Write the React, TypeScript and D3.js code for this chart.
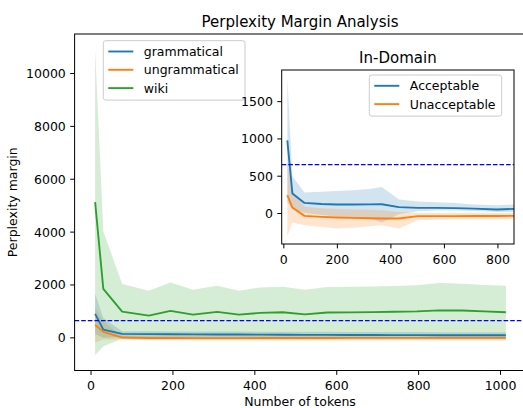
import React from 'react';
import * as d3 from 'd3';

const W = 523;
const H = 408;
const FONT = 'DejaVu Sans, Liberation Sans, sans-serif';

// Main panel: perplexity margin vs. sentence length (token bins)
const tokenBins = [10, 30, 76, 141, 194, 249, 308, 361, 413, 468, 522, 577, 632, 687, 741, 796, 851, 906, 960, 1013];

const grammaticalMean = [906, 313, 151, 140, 135, 130, 128, 125, 120, 115, 112, 110, 108, 106, 104, 102, 100, 100, 98, 98];
const grammaticalHigh = [1672, 755, 249, 245, 242, 240, 238, 236, 233, 230, 228, 226, 224, 222, 220, 218, 215, 213, 212, 211];
const grammaticalLow = [150, 0, 30, 25, 22, 20, 20, 18, 15, 12, 10, 10, 10, 8, 8, 6, 5, 5, 4, 4];

const ungrammaticalMean = [490, 226, 11, -5, -8, -10, -10, -10, -8, -6, -5, -4, -3, -2, -2, -1, 0, 0, 0, 0];
const ungrammaticalHigh = [1155, 626, 60, 50, 48, 46, 45, 44, 42, 40, 40, 40, 38, 38, 36, 36, 35, 35, 34, 34];
const ungrammaticalLow = [-189, -64, -64, -90, -95, -100, -100, -102, -100, -100, -100, -100, -100, -100, -100, -100, -102, -102, -102, -102];

const wikiMean = [5132, 1849, 992, 841, 1019, 879, 981, 879, 943, 966, 890, 960, 965, 975, 985, 1000, 1040, 1035, 1000, 970];
const wikiHigh = [10917, 4023, 2038, 1785, 2098, 1823, 1974, 1785, 1909, 1930, 1823, 1925, 1935, 1945, 1960, 1990, 2075, 2050, 2000, 1974];
const wikiLow = [-657, -317, -38, -60, -60, -60, -60, -60, -60, -60, -60, -60, -60, -60, -60, -60, -60, -60, -60, -60];

// Inset panel: in-domain acceptability
const inDomainBins = [13, 32, 77, 140, 198, 260, 320, 366, 430, 500, 570, 640, 710, 796, 860];

const acceptableMean = [980, 267, 142, 128, 120, 120, 122, 124, 85, 75, 75, 72, 65, 53, 62];
const acceptableHigh = [1818, 499, 280, 290, 302, 310, 330, 356, 187, 160, 150, 142, 120, 111, 120];
const acceptableLow = [150, 60, 10, -20, -40, -50, -70, -120, -10, 30, 40, 40, 35, 20, 20];

const unacceptableMean = [245, 80, -32, -45, -53, -58, -63, -67, -67, -36, -36, -35, -34, -33, -32];
const unacceptableHigh = [700, 300, 90, 70, 60, 55, 50, 45, 20, 10, 10, 10, 10, 10, 10];
const unacceptableLow = [-303, -120, -156, -180, -200, -190, -170, -156, -200, -90, -85, -80, -80, -80, -75];

const threshold = 670;

const mainXTicks = [0, 200, 400, 600, 800, 1000];
const mainYTicks = [0, 2000, 4000, 6000, 8000, 10000];
const insetXTicks = [0, 200, 400, 600, 800];
const insetYTicks = [0, 500, 1000, 1500];

const mainLegend = ['grammatical', 'ungrammatical', 'wiki'];
const insetLegend = ['Acceptable', 'Unacceptable'];

const BLUE = '#1f77b4';
const ORANGE = '#ff7f0e';
const GREEN = '#2ca02c';

const LW = 1.875;
const TICK = 4.4;
const FS = 12.5;

type Series = { mean: number[]; high: number[]; low: number[]; color: string };

function padded(lo: number, hi: number): [number, number] {
  const m = (hi - lo) * 0.05;
  return [lo - m, hi + m];
}

function Panel(props: {
  xs: number[];
  series: Series[];
  x: d3.ScaleLinear<number, number>;
  y: d3.ScaleLinear<number, number>;
  id: string;
}) {
  const { xs, series, x, y, id } = props;
  const [x0, x1] = x.range();
  const [y0, y1] = y.range();
  const line = (vals: number[]) =>
    d3.line<number>().x((_, i) => x(xs[i])).y((v) => y(v))(vals) || '';
  const area = (hi: number[], lo: number[]) =>
    d3
      .area<number>()
      .x((_, i) => x(xs[i]))
      .y0((_, i) => y(lo[i]))
      .y1((_, i) => y(hi[i]))(xs) || '';
  // keep the dashed reference line on a pixel centre so it stays crisp
  const ty = Math.round(y(threshold)) + 0.5;
  return (
    <g clipPath={`url(#${id})`}>
      <defs>
        <clipPath id={id}>
          <rect x={x0} y={y1} width={x1 - x0} height={y0 - y1} />
        </clipPath>
      </defs>
      {series.map((s, i) => (
        <path key={'a' + i} d={area(s.high, s.low)} fill={s.color} fillOpacity={0.2} stroke="none" />
      ))}
      {series.map((s, i) => (
        <path key={'l' + i} d={line(s.mean)} fill="none" stroke={s.color} strokeWidth={LW} strokeLinejoin="round" />
      ))}
      <line x1={x0} x2={x1} y1={ty} y2={ty} stroke="#0000ff" strokeWidth={1.25} strokeDasharray="4.6,2" />
    </g>
  );
}

function Axes(props: {
  x: d3.ScaleLinear<number, number>;
  y: d3.ScaleLinear<number, number>;
  xTicks: number[];
  yTicks: number[];
}) {
  const { x, y, xTicks, yTicks } = props;
  const [x0, x1] = x.range();
  const [y0, y1] = y.range();
  return (
    <g fontFamily={FONT} fontSize={FS} fill="#000">
      <rect x={x0} y={y1} width={x1 - x0} height={y0 - y1} fill="none" stroke="#000" strokeWidth={1} />
      {xTicks.map((t) => (
        <g key={'x' + t}>
          <line x1={x(t)} x2={x(t)} y1={y0} y2={y0 + TICK} stroke="#000" strokeWidth={1} />
          <text x={x(t)} y={y0 + 19.5} textAnchor="middle">
            {t}
          </text>
        </g>
      ))}
      {yTicks.map((t) => (
        <g key={'y' + t}>
          <line x1={x0 - TICK} x2={x0} y1={y(t)} y2={y(t)} stroke="#000" strokeWidth={1} />
          <text x={x0 - TICK - 4.4} y={y(t)} dy="0.36em" textAnchor="end">
            {t}
          </text>
        </g>
      ))}
    </g>
  );
}

function Legend(props: { x: number; y: number; w: number; labels: string[]; colors: string[] }) {
  const { x, y, w, labels, colors } = props;
  const rowH = 18.3;
  const h = labels.length * rowH + 4.5;
  return (
    <g fontFamily={FONT} fontSize={FS}>
      <rect x={x} y={y} width={w} height={h} rx={2.5} ry={2.5} fill="#fff" fillOpacity={0.8} stroke="#cccccc" strokeWidth={1} />
      {labels.map((lab, i) => {
        const cy = y + 10.8 + i * rowH;
        return (
          <g key={lab}>
            <line x1={x + 5} x2={x + 30} y1={cy} y2={cy} stroke={colors[i]} strokeWidth={LW} />
            <text x={x + 40.5} y={cy} dy="0.36em" fill="#000">
              {lab}
            </text>
          </g>
        );
      })}
    </g>
  );
}

export default function App() {
  const mainX = d3
    .scaleLinear()
    .domain(padded(d3.min(tokenBins)!, d3.max(tokenBins)!))
    .range([74.6, 526.4]);
  const allMain = [...wikiHigh, ...wikiLow, ...grammaticalHigh, ...grammaticalLow, ...ungrammaticalHigh, ...ungrammaticalLow];
  const mainY = d3
    .scaleLinear()
    .domain(padded(d3.min(allMain)!, d3.max(allMain)!))
    .range([370.5, 34]);

  const insetX = d3.scaleLinear().domain([-8, 860]).range([281.7, 514]);
  const allInset = [...acceptableHigh, ...acceptableLow, ...unacceptableHigh, ...unacceptableLow];
  const insetY = d3
    .scaleLinear()
    .domain(padded(d3.min(allInset)!, d3.max(allInset)!))
    .range([244, 70]);

  const mainSeries: Series[] = [
    { mean: grammaticalMean, high: grammaticalHigh, low: grammaticalLow, color: BLUE },
    { mean: ungrammaticalMean, high: ungrammaticalHigh, low: ungrammaticalLow, color: ORANGE },
    { mean: wikiMean, high: wikiHigh, low: wikiLow, color: GREEN },
  ];
  const insetSeries: Series[] = [
    { mean: acceptableMean, high: acceptableHigh, low: acceptableLow, color: BLUE },
    { mean: unacceptableMean, high: unacceptableHigh, low: unacceptableLow, color: ORANGE },
  ];

  return (
    <svg width={W} height={H} style={{ position: 'absolute', left: 0, top: 0, background: '#fff' }}>
      <rect width={W} height={H} fill="#fff" />
      <text x={300} y={26.5} textAnchor="middle" fontFamily={FONT} fontSize={15}>
        Perplexity Margin Analysis
      </text>
      <Panel xs={tokenBins} series={mainSeries} x={mainX} y={mainY} id="clip-main" />
      <Axes x={mainX} y={mainY} xTicks={mainXTicks} yTicks={mainYTicks} />
      <text x={300} y={406} textAnchor="middle" fontFamily={FONT} fontSize={FS}>
        Number of tokens
      </text>
      <text
        transform={`translate(17,${(34 + 370.5) / 2}) rotate(-90)`}
        textAnchor="middle"
        fontFamily={FONT}
        fontSize={FS}
      >
        Perplexity margin
      </text>
      <Legend x={103.3} y={40.7} w={141.7} labels={mainLegend} colors={[BLUE, ORANGE, GREEN]} />

      {/* inset */}
      <rect x={281.7} y={70} width={514 - 281.7} height={174} fill="#fff" />
      <Panel xs={inDomainBins} series={insetSeries} x={insetX} y={insetY} id="clip-inset" />
      <Axes x={insetX} y={insetY} xTicks={insetXTicks} yTicks={insetYTicks} />
      <text x={397.9} y={62.5} textAnchor="middle" fontFamily={FONT} fontSize={15}>
        In-Domain
      </text>
      <Legend x={369.3} y={75} w={132.4} labels={insetLegend} colors={[BLUE, ORANGE]} />
    </svg>
  );
}
